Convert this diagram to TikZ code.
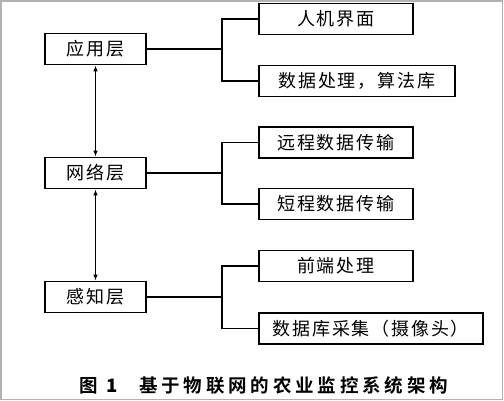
\documentclass[tikz,border=0pt]{standalone}
\usepackage{fontspec}
\newfontfamily\cjk{Noto Sans CJK SC}[LetterSpace=10]
\newfontfamily\cjkbold{Noto Sans CJK SC Bold}
\newcommand\capline[1]{\makebox[309pt][s]{#1}}
\usetikzlibrary{arrows.meta}

\begin{document}
\begin{tikzpicture}
        [x=1pt, y=-1pt,
        box/.style={rectangle, draw=black, line width=1.6pt, minimum height=31pt, inner sep=0pt, font=\cjk\fontsize{18}{18}\selectfont},
        layer/.style={box, minimum width=101pt},
        part/.style={box, anchor=west},
        arr/.style={{Latex[length=6pt,width=4.5pt]}-{Latex[length=6pt,width=4.5pt]}, line width=1.5pt},
        link/.style={line width=1.5pt}]
        \useasboundingbox (0,0) rectangle (504,400);
        \draw[gray!60, line width=1.5pt] (0.75,0.75) rectangle (502.5,399.25);
        % layers
        \node (a) at (95.5,49) [layer] {应用层};
        \node (n) at (95.5,173) [layer] {网络层};
        \node (p) at (95.5,297) [layer] {感知层};
        % parts of each layer
        \node (a1) at (258,19) [part, minimum width=154pt] {人机界面};
        \node (a2) at (258,81) [part, minimum width=196pt] {数据处理，算法库};
        \node (n1) at (258,142.5) [part, minimum width=154pt] {远程数据传输};
        \node (n2) at (258,204) [part, minimum width=154pt] {短程数据传输};
        \node (p1) at (258,266) [part, minimum width=154pt] {前端处理};
        \node (p2) at (258,328.5) [part, minimum width=224pt] {数据库采集（摄像头）};
        % branch points
        \coordinate (ab) at (222,49);
        \coordinate (nb) at (222,173);
        \coordinate (pb) at (222,297);
        \draw[link] (a) -- (ab);
        \draw[link] (a1) -| (ab) |- (a2);
        \draw[link] (n) -- (nb);
        \draw[link] (n1) -| (nb) |- (n2);
        \draw[link] (p) -- (pb);
        \draw[link] (p1) -| (pb) |- (p2);
        \draw[arr] (a) -- (n);
        \draw[arr] (n) -- (p);
        % caption
        \node (cap) at (79,385) [anchor=west, inner sep=0pt, font=\cjkbold\fontsize{18.5}{18.5}\selectfont] {\makebox[27pt][l]{图}\makebox[33pt][l]{\textbf{1}}\capline{基\hfill 于\hfill 物\hfill 联\hfill 网\hfill 的\hfill 农\hfill 业\hfill 监\hfill 控\hfill 系\hfill 统\hfill 架\hfill 构}};
\end{tikzpicture}
\end{document}
